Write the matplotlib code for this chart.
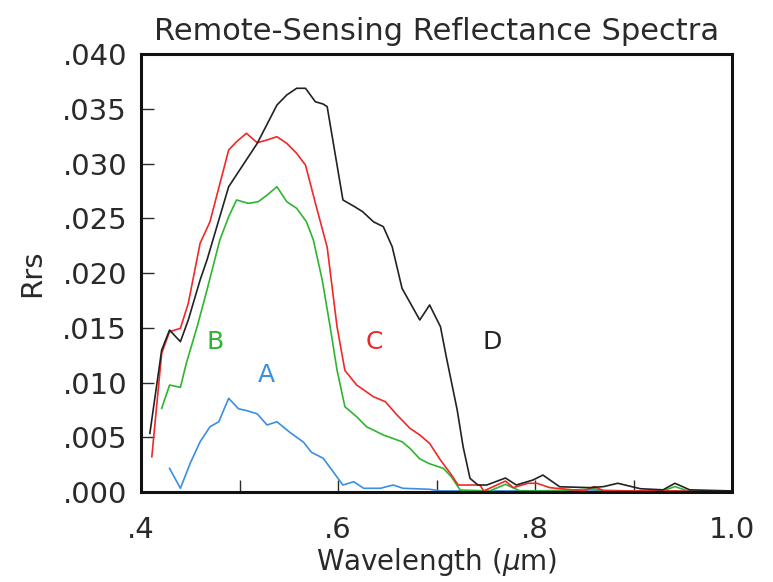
import matplotlib as mplt
mplt.use("Agg")
import matplotlib.pyplot as plt
from matplotlib.ticker import FixedLocator, FuncFormatter

# spectra (wavelength in um, Rrs)
wl_a = [0.429, 0.440, 0.450, 0.460, 0.470, 0.479, 0.489, 0.499, 0.507, 0.518, 0.528, 0.538,
        0.551, 0.565, 0.573, 0.585, 0.599, 0.605, 0.616, 0.626, 0.643, 0.656, 0.666, 0.693,
        0.704, 0.75, 0.80, 0.85, 0.90, 0.95, 1.0]
rrs_a = [0.00216, 0.00034, 0.00263, 0.00459, 0.00596, 0.00642, 0.00856, 0.00760, 0.00744, 0.00714,
         0.00612, 0.00642, 0.00546, 0.00455, 0.00363, 0.00308, 0.00137, 0.00064, 0.00094, 0.00034,
         0.00034, 0.00064, 0.00034, 0.00025, 0.0001, 0.0001, 0.0001, 0.0002, 0.0001, 0.0001, 0.0]

wl_b = [0.421, 0.429, 0.440, 0.446, 0.457, 0.467, 0.480, 0.489, 0.497, 0.509, 0.519, 0.528,
        0.538, 0.548, 0.558, 0.568, 0.575, 0.584, 0.592, 0.599, 0.607, 0.619, 0.629, 0.646,
        0.665, 0.673, 0.683, 0.693, 0.707, 0.715, 0.724, 0.754, 0.770, 0.785, 0.825, 0.860,
        0.870, 0.930, 0.942, 0.955, 1.0]
rrs_b = [0.00764, 0.00977, 0.00956, 0.01175, 0.01510, 0.01845, 0.02301, 0.02514, 0.02667, 0.02636,
         0.02651, 0.02712, 0.02788, 0.02651, 0.02591, 0.02468, 0.02301, 0.01936, 0.01510, 0.01114,
         0.00779, 0.00687, 0.00596, 0.00521, 0.00459, 0.00399, 0.00303, 0.00258, 0.00216, 0.00140,
         0.00018, 0.0001, 0.0007, 0.0001, 0.0001, 0.0003, 0.0001, 0.0001, 0.0005, 0.0001, 0.0]

wl_c = [0.411, 0.421, 0.429, 0.440, 0.448, 0.460, 0.470, 0.489, 0.497, 0.507, 0.518, 0.528,
        0.538, 0.548, 0.558, 0.567, 0.578, 0.589, 0.599, 0.607, 0.619, 0.636, 0.648, 0.660,
        0.673, 0.683, 0.693, 0.704, 0.714, 0.722, 0.744, 0.748, 0.770, 0.778, 0.793, 0.802,
        0.815, 0.850, 0.860, 0.870, 0.940, 1.0]
rrs_c = [0.00322, 0.01267, 0.01464, 0.01495, 0.01723, 0.02271, 0.02468, 0.03123, 0.03199, 0.03276,
         0.03190, 0.03215, 0.03245, 0.03184, 0.03093, 0.02986, 0.02605, 0.02236, 0.01510, 0.01110,
         0.00977, 0.00870, 0.00825, 0.00703, 0.00582, 0.00521, 0.00444, 0.00292, 0.00171, 0.00064,
         0.00064, 0.0001, 0.0010, 0.0004, 0.0008, 0.0008, 0.0004, 0.0001, 0.0005, 0.0001, 0.0001, 0.0]

wl_d = [0.409, 0.421, 0.429, 0.440, 0.448, 0.460, 0.467, 0.489, 0.518, 0.538, 0.548, 0.558,
        0.567, 0.577, 0.585, 0.589, 0.605, 0.617, 0.625, 0.636, 0.646, 0.655, 0.665, 0.683,
        0.693, 0.704, 0.710, 0.721, 0.727, 0.734, 0.742, 0.751, 0.770, 0.781, 0.798, 0.808,
        0.825, 0.856, 0.870, 0.884, 0.907, 0.930, 0.942, 0.957, 1.0]
rrs_d = [0.00536, 0.01297, 0.01479, 0.01373, 0.01571, 0.01936, 0.02119, 0.02788, 0.03184, 0.03534,
         0.03626, 0.03687, 0.03687, 0.03564, 0.03543, 0.03519, 0.02667, 0.02605, 0.02560, 0.02468,
         0.02423, 0.02240, 0.01860, 0.01571, 0.01708, 0.01510, 0.01231, 0.00749, 0.00414, 0.00125,
         0.00064, 0.00064, 0.00128, 0.00064, 0.00110, 0.00155, 0.00048, 0.0004, 0.0005, 0.0008,
         0.0003, 0.0002, 0.0008, 0.0002, 0.0001]

series = [(wl_a, rrs_a, '#3a8fe0', 'A', 0.527, 0.0107),
          (wl_b, rrs_b, '#2eb52e', 'B', 0.475, 0.0137),
          (wl_c, rrs_c, '#f02828', 'C', 0.637, 0.0137),
          (wl_d, rrs_d, '#222222', 'D', 0.757, 0.0137)]

plt.rcParams['font.family'] = ['DejaVu Sans']
fig = plt.figure(figsize=(7.73, 5.82), dpi=100)
ax = fig.add_axes([0.1824, 0.1546, 0.7646, 0.7526])

for wl, rrs, col, lab, lx, ly in series:
    ax.plot(wl, rrs, color=col, lw=1.2)
    ax.text(lx, ly, lab, color=col, fontsize=18, ha='center', va='center')

ax.set_xlim(0.4, 1.0)
ax.set_ylim(0.0, 0.040)
ax.xaxis.set_major_locator(FixedLocator([0.4, 0.5, 0.6, 0.7, 0.8, 0.9, 1.0]))
xlabs = {0.4: '.4', 0.6: '.6', 0.8: '.8', 1.0: '1.0'}
ax.xaxis.set_major_formatter(FuncFormatter(lambda v, p: xlabs.get(round(v, 1), '')))
ax.yaxis.set_major_locator(FixedLocator([i * 0.005 for i in range(9)]))
ax.yaxis.set_major_formatter(FuncFormatter(lambda v, p: ('%.3f' % v)[1:]))
ax.tick_params(axis='both', direction='in', length=9, width=1, labelsize=21,
               colors='#2a2a2a', top=False, right=False)
ax.tick_params(axis='x', pad=17)
ax.tick_params(axis='y', pad=10)
for s in ax.spines.values():
    s.set_linewidth(2.2)
    s.set_color('#111111')

ax.set_title('Remote-Sensing Reflectance Spectra', fontsize=22, color='#2a2a2a', pad=10)
ax.set_xlabel('Wavelength ($\\mu$m)', fontsize=20, color='#2a2a2a', labelpad=2)
ax.set_ylabel('Rrs', fontsize=21, color='#2a2a2a', labelpad=12)

fig.savefig('out.png', dpi=100)
